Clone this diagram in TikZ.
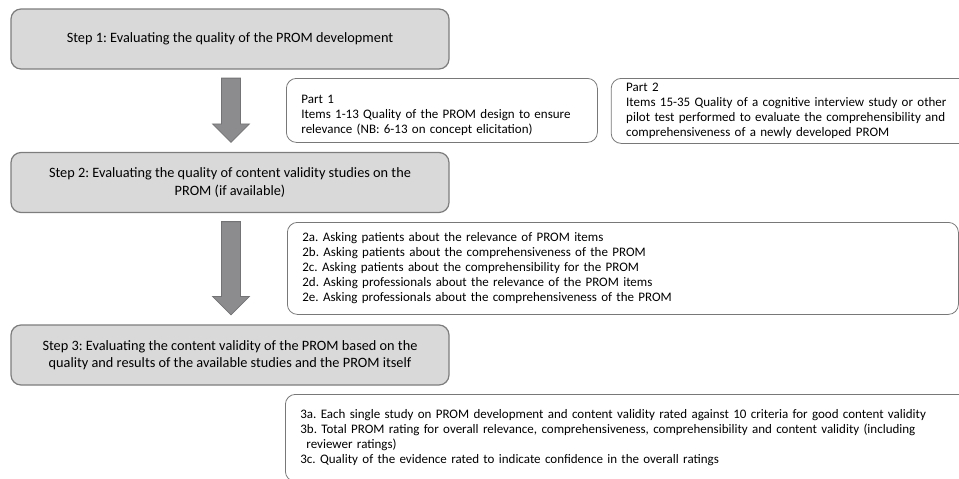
\documentclass[tikz,border=0pt]{standalone}
\usepackage{fontspec}
\setmainfont{Carlito}
\usetikzlibrary{calc}
\usetikzlibrary{positioning}
\frenchspacing

\definecolor{stagefill}{RGB}{217,217,217}
\definecolor{stageline}{RGB}{125,125,125}
\definecolor{arrowfill}{RGB}{140,140,143}
\definecolor{arrowline}{RGB}{115,115,118}
\definecolor{listline}{RGB}{120,120,120}

\begin{document}
\begin{tikzpicture}
 		[
 		x=1pt, y=1pt,
 		font=\fontsize{13}{15}\selectfont
 		]
 		
 		% Two box styles: the grey steps and the white lists
 		\tikzstyle{stage box}=[rectangle, rounded corners=10pt, draw=stageline, fill=stagefill, line width=1.2pt, minimum width=438pt, minimum height=60pt, align=center, font=\fontsize{14.3}{17.5}\selectfont];
 		\tikzstyle{list box}=[rectangle, rounded corners=10pt, draw=listline, line width=0.8pt, align=left, inner xsep=15pt, inner ysep=4pt, anchor=north west];
 		\tikzstyle{block arrow}=[draw=arrowline, fill=arrowfill, line width=0.8pt];
 		
 		\useasboundingbox (0,0) rectangle (959,-479);
 		
 		% The steps
 		\node(step1)[stage box] at (230,-39) {Step 1: Evaluating the quality of the PROM development};
 		\node(step2)[stage box] at (230,-182.5) {Step 2: Evaluating the quality of content validity studies on the\\PROM (if available)};
 		\node(step3)[stage box] at (230,-355) {Step 3: Evaluating the content validity of the PROM based on the\\quality and results of the available studies and the PROM itself};
 		
 		% What each step covers
 		\node(part1)[list box, text width=281pt, minimum height=64pt] at (286,-78)
 			{\rule{0pt}{19pt}Part 1\\Items 1-13 Quality of the PROM design to ensure\\relevance (NB: 6-13 on concept elicitation)};
 		\node(part2)[list box, text width=380pt, minimum height=65pt, inner ysep=1.5pt, right=13pt of part1.north east, anchor=north west]
 			{Part 2\\Items 15-35 Quality of a cognitive interview study or other\\pilot test performed to evaluate the comprehensibility and\\comprehensiveness of a newly developed PROM};
 		\node(sub2)[list box, text width=641pt, minimum height=92pt] at (287,-222)
 			{2a. Asking patients about the relevance of PROM items\\
 			2b. Asking patients about the comprehensiveness of the PROM\\
 			2c. Asking patients about the comprehensibility for the PROM\\
 			2d. Asking professionals about the relevance of the PROM items\\
 			2e. Asking professionals about the comprehensiveness of the PROM};
 		\node(sub3)[list box, text width=660pt, minimum height=87pt] at (285,-394)
 			{3a. Each single study on PROM development and content validity rated against 10 criteria for good content validity\\
 			3b. Total PROM rating for overall relevance, comprehensiveness, comprehensibility and content validity (including\\
 			\hspace*{6pt}reviewer ratings)\\
 			3c. Quality of the evidence rated to indicate confidence in the overall ratings};
 		
 		% Arrows from one step to the next
 		\foreach \a/\b in {step1/step2, step2/step3}
 			\draw[block arrow] let \p1=($(\a.south)+(1,-8.5)$), \p2=($(\b.north)+(1,9.5)$) in
 			(\x1-9.5pt,\y1) -- (\x1+9.5pt,\y1) -- (\x1+9.5pt,\y2+18.5pt) -- (\x1+18.5pt,\y2+18.5pt)
 			-- (\x1,\y2) -- (\x1-18.5pt,\y2+18.5pt) -- (\x1-9.5pt,\y2+18.5pt) -- cycle;
 		
 		\end{tikzpicture}
\end{document}
